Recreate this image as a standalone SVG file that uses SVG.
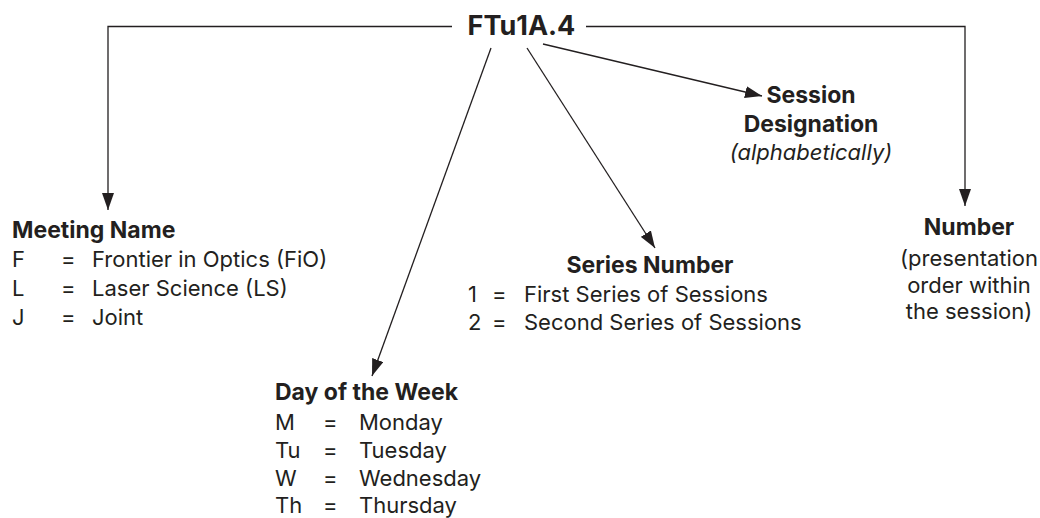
<svg xmlns="http://www.w3.org/2000/svg" width="1040" height="518" viewBox="0 0 1040 518">
<style>
text{font-family:Inter,"Open Sans","Liberation Sans",sans-serif;fill:#231f20;font-size:22px}
.b{font-weight:700;font-size:23px}
.i{font-style:italic}
.m{text-anchor:middle}
.c{fill:none;stroke:#231f20;stroke-width:1.3}
</style>
<defs>
<marker id="ah" markerUnits="userSpaceOnUse" markerWidth="17" markerHeight="12" refX="17" refY="6" orient="auto">
<path d="M0,0 L17,6 L0,12 z" fill="#231f20"/>
</marker>
</defs>
<rect width="1040" height="518" fill="#fff"/>
<g id="connectors">
<path class="c" d="M452,26.5 H108 V210" marker-end="url(#ah)"/>
<path class="c" d="M586,26.5 H965 V206" marker-end="url(#ah)"/>
<path class="c" d="M491,48 L372,376" marker-end="url(#ah)"/>
<path class="c" d="M527,48 L655,248" marker-end="url(#ah)"/>
<path class="c" d="M543,44 L762,96" marker-end="url(#ah)"/>
</g>
<g id="code">
<text class="b m" x="521.5" y="35" style="font-size:27px">FTu1A.4</text>
</g>
<g id="meeting">
<text class="b" x="12" y="238">Meeting Name</text>
<text x="12" y="267">F</text><text x="61" y="267">=</text><text x="92" y="267">Frontier in Optics (FiO)</text>
<text x="12" y="296">L</text><text x="61" y="296">=</text><text x="92" y="296">Laser Science (LS)</text>
<text x="12" y="325">J</text><text x="61" y="325">=</text><text x="92" y="325">Joint</text>
</g>
<g id="day">
<text class="b" x="275" y="400">Day of the Week</text>
<text x="275" y="430">M</text><text x="323" y="430">=</text><text x="359" y="430">Monday</text>
<text x="275" y="458">Tu</text><text x="323" y="458">=</text><text x="359" y="458">Tuesday</text>
<text x="275" y="486">W</text><text x="323" y="486">=</text><text x="359" y="486">Wednesday</text>
<text x="275" y="513">Th</text><text x="323" y="513">=</text><text x="359" y="513">Thursday</text>
</g>
<g id="series">
<text class="b m" x="650" y="273">Series Number</text>
<text x="468" y="302">1</text><text x="492" y="302">=</text><text x="524" y="302">First Series of Sessions</text>
<text x="468" y="330">2</text><text x="492" y="330">=</text><text x="524" y="330">Second Series of Sessions</text>
</g>
<g id="session">
<text class="b m" x="811" y="103">Session</text>
<text class="b m" x="811" y="132">Designation</text>
<text class="i m" x="811" y="160">(alphabetically)</text>
</g>
<g id="number">
<text class="b m" x="969" y="235">Number</text>
<text class="m" x="969" y="266">(presentation</text>
<text class="m" x="969" y="293">order within</text>
<text class="m" x="969" y="319">the session)</text>
</g>
</svg>
